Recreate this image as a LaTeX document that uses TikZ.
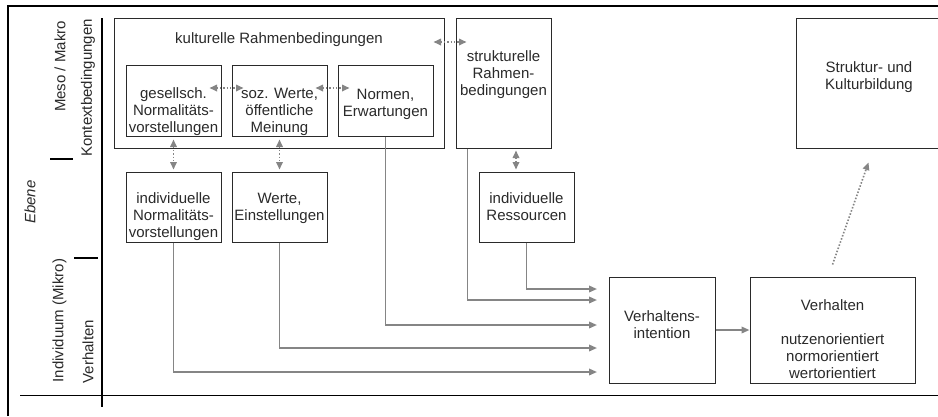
\documentclass[tikz,border=0pt]{standalone}
\usepackage{fontspec}
\setmainfont{Liberation Sans}
\usetikzlibrary{arrows.meta}
\definecolor{txtc}{HTML}{2A2A2A}
\definecolor{linec}{HTML}{858585}
\begin{document}
\begin{tikzpicture}[x=1pt,y=-1pt,
  box/.style={draw=txtc, line width=1pt, inner sep=0pt},
  txt/.style={text=txtc, align=center, inner sep=0pt, font=\fontsize{15}{17}\selectfont},
  conn/.style={draw=linec, line width=1.8pt, -{Triangle[length=8pt,width=6.5pt]}},
  darr/.style={draw=linec, line width=1.6pt, dash pattern=on 1.5pt off 1.8pt,
     {Triangle[length=7.5pt,width=6.5pt]}-{Triangle[length=7.5pt,width=6.5pt]}},
  uarr/.style={draw=linec, line width=1.6pt, dash pattern=on 1.5pt off 1.8pt,
     -{Triangle[length=7.5pt,width=6.5pt]}},
  axis/.style={draw=black, line width=1.8pt}]
\useasboundingbox (0,0) rectangle (938,416);
\fill[white] (0,0) rectangle (938,416);
% frame and axes
\draw[axis, line width=1.5pt] (8,416) -- (8,6) -- (940,6);
\draw[axis] (102,18) -- (102,407);
\draw[axis] (20,395.5) -- (940,395.5);
\draw[axis, line width=1.6pt] (50,159) -- (73,159);
\draw[axis, line width=1.6pt] (74,258) -- (98,258);
% axis labels
\node[txt, rotate=90] (meso) at (60,66.5) {Meso / Makro};
\node[txt, rotate=90] (kontext) at (88,88) {Kontextbedingungen};
\node[txt, rotate=90, font=\fontsize{15}{17}\selectfont\itshape] (ebene) at (30,202) {Ebene};
\node[txt, rotate=90] (indiv) at (59.5,320.5) {Individuum (Mikro)};
\node[txt, rotate=90] (verhax) at (88,351.5) {Verhalten};
% boxes
\node[box, minimum width=330pt, minimum height=130pt] (kult) at (279,83) {};
\node[txt] (kultT) at (279,40) {kulturelle Rahmenbedingungen};
\node[box, minimum width=95pt, minimum height=71pt] (gesell) at (173.5,100.5) {};
\node[txt] (gesellT) at (173.5,112) {gesellsch.\\Normalitäts-\\vorstellungen};
\node[box, minimum width=95pt, minimum height=71pt] (soz) at (279.5,100.5) {};
\node[txt] (sozT) at (279.5,112) {soz. Werte,\\öffentliche\\Meinung};
\node[box, minimum width=95pt, minimum height=71pt] (normen) at (385.5,100.5) {};
\node[txt] (normenT) at (385.5,104) {Normen,\\Erwartungen};
\node[box, minimum width=95pt, minimum height=130pt] (strukt) at (503.5,83) {};
\node[txt] (struktT) at (503.5,75) {strukturelle\\Rahmen-\\bedingungen};
\node[box, minimum width=145pt, minimum height=130pt] (bild) at (868.5,83) {};
\node[txt] (bildT) at (869,77.5) {Struktur- und\\Kulturbildung};
\node[box, minimum width=95pt, minimum height=70pt] (indnorm) at (173.5,207) {};
\node[txt] (indnormT) at (173.5,217) {individuelle\\Normalitäts-\\vorstellungen};
\node[box, minimum width=95pt, minimum height=70pt] (werte) at (279.5,207) {};
\node[txt] (werteT) at (279.5,208.5) {Werte,\\Einstellungen};
\node[box, minimum width=95pt, minimum height=70pt] (ress) at (526.5,207) {};
\node[txt] (ressT) at (526.5,206.5) {individuelle\\Ressourcen};
\node[box, minimum width=106pt, minimum height=106pt] (intent) at (662,330) {};
\node[txt] (intentT) at (662,325) {Verhaltens-\\intention};
\node[box, minimum width=165pt, minimum height=106pt] (verh) at (832.5,330) {};
\node[txt] (verhT) at (832.5,339) {Verhalten\\[17pt]nutzenorientiert\\normorientiert\\wertorientiert};
% free ends of connectors
\coordinate (e1) at (597,289);
\coordinate (e2) at (597,300);
\coordinate (e3) at (597,325);
\coordinate (e4) at (597,348);
\coordinate (e5) at (597,372);
% solid connectors
\draw[conn] (ress.south) |- (e1);
\draw[conn] ([xshift=12pt]strukt.south west) |- (e2);
\draw[conn] (normen.south) |- (e3);
\draw[conn] (werte.south) |- (e4);
\draw[conn] (indnorm.south) |- (e5);
\draw[conn] (intent.east) -- (verh.west);
% dotted connectors
\draw[darr] ([xshift=-11pt,yshift=41pt]kult.east) -- ([xshift=11pt,yshift=41pt]strukt.west);
\draw[darr] ([xshift=-12pt,yshift=12.5pt]gesell.east) -- ([xshift=12pt,yshift=12.5pt]soz.west);
\draw[darr] ([xshift=-12pt,yshift=12.5pt]soz.east) -- ([xshift=12pt,yshift=12.5pt]normen.west);
\draw[darr] ([yshift=-3pt]gesell.south) -- ([yshift=2pt]indnorm.north);
\draw[darr] ([yshift=-3pt]soz.south) -- ([yshift=2pt]werte.north);
\draw[darr] ([xshift=12.5pt,yshift=-2pt]strukt.south) -- ([xshift=-10.5pt,yshift=2pt]ress.north);
\draw[uarr] ([yshift=12pt]verh.north) -- ([yshift=-14pt]bild.south);
\end{tikzpicture}
\end{document}
